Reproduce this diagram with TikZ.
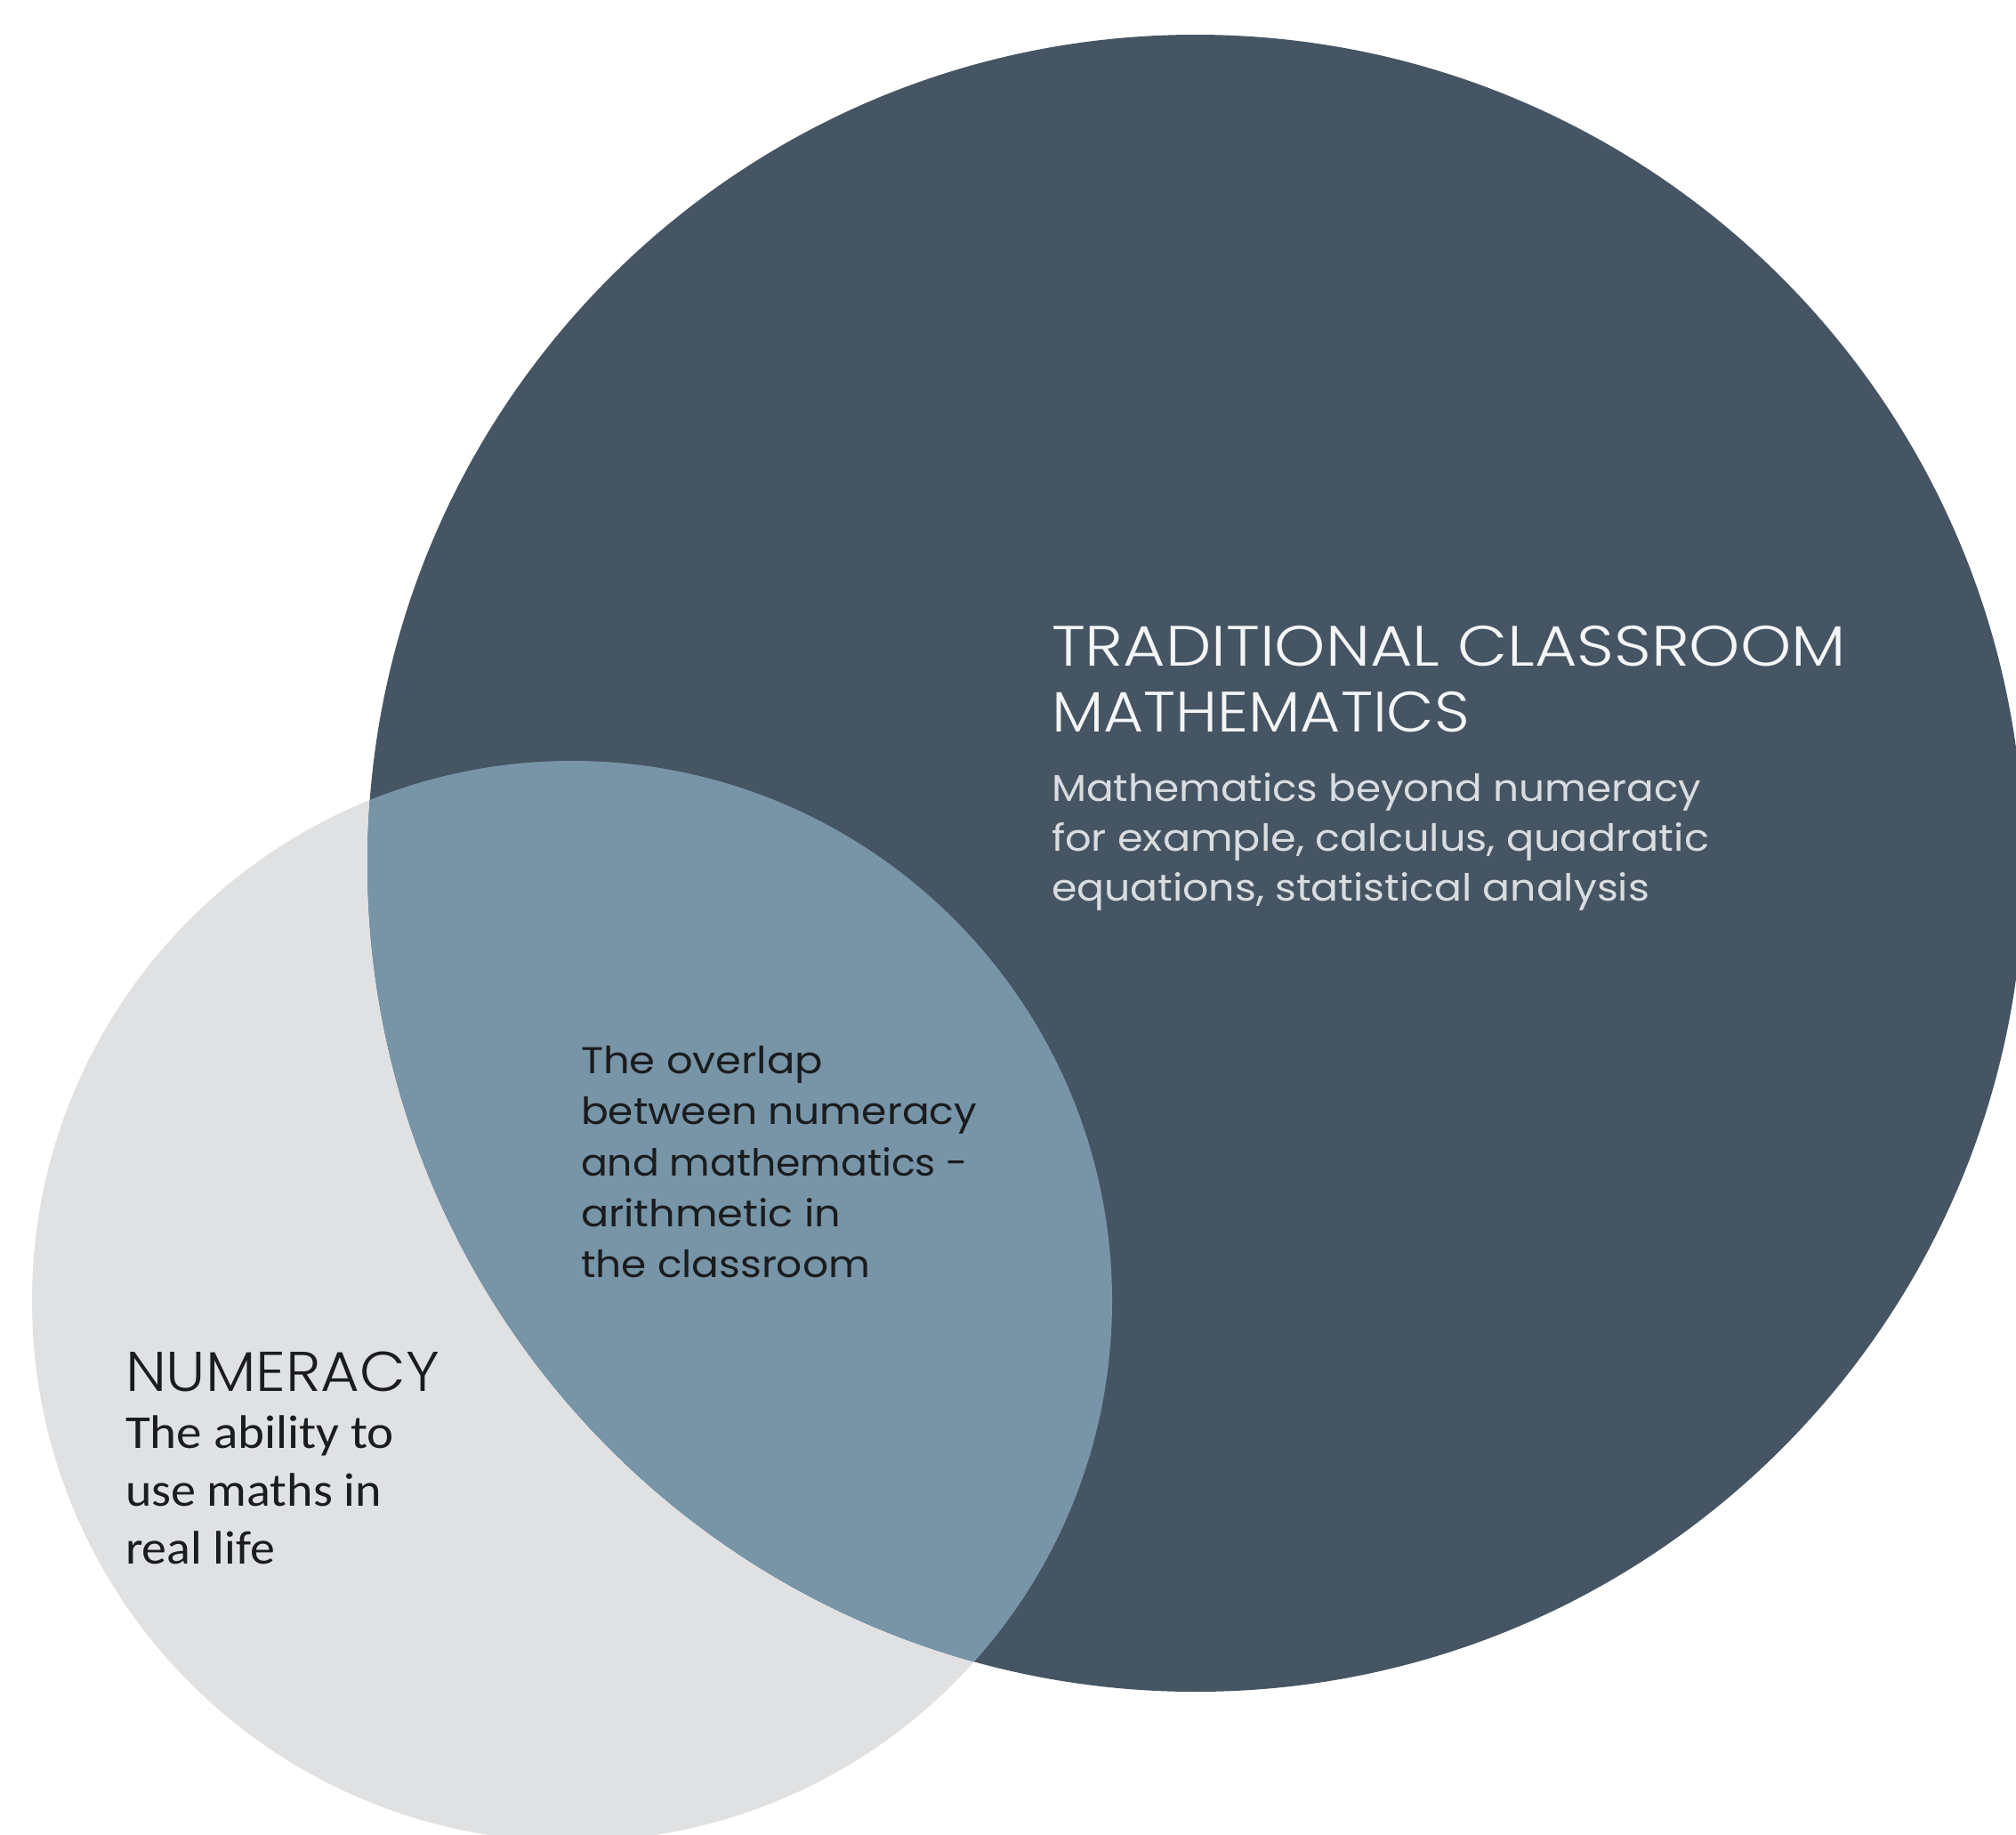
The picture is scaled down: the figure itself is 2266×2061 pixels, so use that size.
\documentclass[tikz,border=0pt]{standalone}
\usepackage{fontspec}
\usepackage{graphicx}
\IfFontExistsTF{Poppins Light}{\newfontfamily\lightfont{Poppins Light}}{\newfontfamily\lightfont{Poppins}}
\newfontfamily\bookfont{Poppins}
\newfontfamily\calfont{Carlito}
\newcommand{\fitto}[2]{\resizebox{#1pt}{\height}{#2}}
\definecolor{darkslate}{HTML}{465563}
\definecolor{overlapblue}{HTML}{7895A8}
\definecolor{lightgrey}{HTML}{E0E1E3}
\definecolor{whitetext}{HTML}{F4F5F6}
\definecolor{subtext}{HTML}{DADDE0}
\definecolor{darktext}{HTML}{1A1C1E}
\tikzset{
  line/.style={inner sep=0pt, outer sep=0pt, anchor=base west},
  bigtitle/.style={line, text=whitetext, font=\lightfont\fontsize{64}{75}\selectfont},
  bigsub/.style={line, text=subtext, font=\bookfont\fontsize{42}{56}\selectfont},
  overlaptext/.style={line, text=darktext, font=\bookfont\fontsize{42}{56}\selectfont},
  numtitle/.style={line, text=darktext, font=\lightfont\fontsize{63}{70}\selectfont},
  numtext/.style={line, text=darktext, font=\calfont\fontsize{53}{65}\selectfont}
}
\begin{document}
\begin{tikzpicture}[x=1pt,y=-1pt]
\useasboundingbox (0,0) rectangle (2266,2061);
\fill[white] (0,0) rectangle (2266,2061);
% circles
\fill[lightgrey] (643,1462) circle[radius=607];
\fill[darkslate] (1344,970) circle[radius=931];
\begin{scope}
  \clip (643,1462) circle[radius=607];
  \fill[overlapblue] (1344,970) circle[radius=931];
\end{scope}
% traditional maths
\node[bigtitle] (t1) at (1182,748) {\fitto{893}{TRADITIONAL CLASSROOM}};
\node[bigtitle] (t2) at (1182,822) {\fitto{470}{MATHEMATICS}};
\node[bigsub] (s1) at (1182,900) {\fitto{730}{Mathematics beyond numeracy}};
\node[bigsub] (s2) at (1182,956) {\fitto{739}{for example, calculus, quadratic}};
\node[bigsub] (s3) at (1182,1012) {\fitto{672}{equations, statistical analysis}};
% overlap
\node[overlaptext] (o1) at (653,1206) {\fitto{272}{The overlap}};
\node[overlaptext] (o2) at (653,1263) {\fitto{445}{between numeracy}};
\node[overlaptext] (o3) at (653,1321) {\fitto{435}{and mathematics -}};
\node[overlaptext] (o4) at (653,1378) {\fitto{292}{arithmetic in}};
\node[overlaptext] (o5) at (653,1435) {\fitto{325}{the classroom}};
% numeracy
\node[numtitle] (n0) at (141,1563) {\fitto{353}{NUMERACY}};
\node[numtext] (n1) at (141,1627) {\fitto{302}{The ability to}};
\node[numtext] (n2) at (141,1692) {\fitto{288}{use maths in}};
\node[numtext] (n3) at (141,1757) {\fitto{168}{real life}};
\end{tikzpicture}
\end{document}
